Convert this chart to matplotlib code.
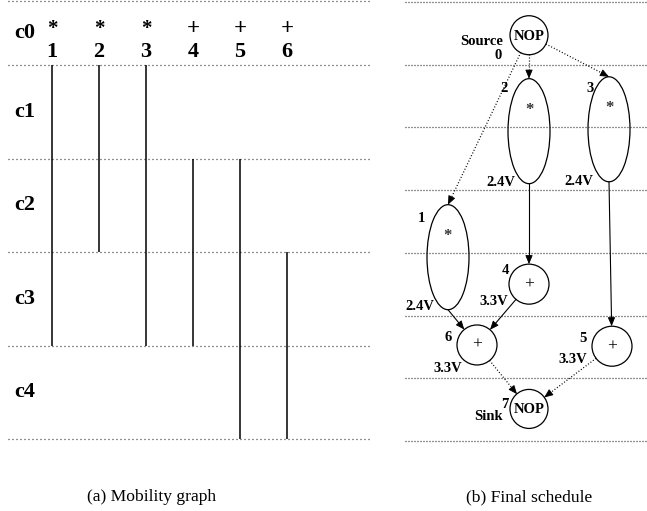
import matplotlib
matplotlib.use('Agg')
import matplotlib.pyplot as plt
from matplotlib.patches import Ellipse
import numpy as np

plt.rcParams['font.family'] = ['Liberation Serif', 'DejaVu Serif']

# ---- (a) mobility graph data ----
ops = [1, 2, 3, 4, 5, 6]
op_symbols = ['*', '*', '*', '+', '+', '+']
asap = [1, 1, 1, 2, 2, 3]          # earliest control step
alap = [3, 2, 3, 3, 4, 4]          # latest control step
steps = ['c0', 'c1', 'c2', 'c3', 'c4']
step_edges = [0.32, 1, 2, 3, 4, 5]

# ---- (b) final schedule data ----
node_ids = ['0', '1', '2', '3', '4', '5', '6', '7']
node_ops = ['NOP', '*', '*', '*', '+', '+', '+', 'NOP']
node_kind = ['nop', 'mul', 'mul', 'mul', 'add', 'add', 'add', 'nop']
node_names = ['Source', '', '', '', '', '', '', 'Sink']
node_volt = ['', '2.4V', '2.4V', '2.4V', '3.3V', '3.3V', '3.3V', '']
node_col = [129, 48, 129, 209, 129, 212, 77, 129]
node_slot = [0.53, 4.07, 2.06, 2.03, 4.5, 5.49, 5.47, 6.49]
edges = [(0, 1, 'dotted'), (0, 2, 'dotted'), (0, 3, 'dotted'),
         (2, 4, 'solid'), (3, 5, 'solid'), (1, 6, 'solid'), (4, 6, 'solid'),
         (6, 7, 'dotted'), (5, 7, 'dotted')]
n_slots = 7

# label placement (pixels relative to node centre)
num_off = [(-31, 20), (-27, -39), (-25, -43), (-19, -41), (-24, -14), (-29, -8), (-29, -7), (-24, -4)]
volt_off = [(0, 0), (-14, 49), (-14, 51), (-16, 52), (-21, 17), (-25, 13), (-15, 24), (0, 0)]
name_off = [(-26, 6), None, None, None, None, None, None, (-26, 8)]
kind_size = {'mul': (42, 105), 'add': (40, 40), 'nop': (38, 39)}

DOT_A = (0, (0.8, 2.4))
DOT_B = (0, (0.8, 1.6))
GRID_C = '#222222'
BOLD = dict(fontweight='bold', color='black')

fig = plt.figure(figsize=(6.47, 5.11), dpi=100)

# ---------------- (a) ----------------
axa = fig.add_axes([0, 0, 380 / 647, 1])
col_px, step_px = 47.0, 93.5
axa.set_xlim(1 - 52 / col_px, 1 + (380 - 52) / col_px)
axa.set_ylim(1 + (511 - 65) / step_px, 1 - 65 / step_px)
axa.axis('off')

x0, x1 = 1 - 44 / col_px, 1 + 320 / col_px
for e in step_edges:
    axa.plot([x0, x1], [e, e], ls=DOT_A, lw=0.9, color=GRID_C)
for i, s in enumerate(steps):
    yc = (step_edges[i] + step_edges[i + 1]) / 2 if i + 1 < len(step_edges) else step_edges[i] + 0.5
    axa.text(1 - 27.5 / col_px, yc, s, fontsize=16, ha='center', va='center', **BOLD)
for op, sym, a, b in zip(ops, op_symbols, asap, alap):
    if sym == '*':
        axa.text(op, 1 - 36 / step_px, sym, fontsize=15, ha='center', va='center', **BOLD)
    else:
        axa.text(op, 1 - 37 / step_px, sym, fontsize=16.5, ha='center', va='center', **BOLD)
    axa.text(op, 1 - 13 / step_px, str(op), fontsize=16, ha='center', va='center', **BOLD)
    axa.plot([op, op], [a, b + 1], color='black', lw=1.1, solid_capstyle='butt')

fig.text(152 / 647, 1 - 497 / 511, '(a) Mobility graph', fontsize=12.6, ha='center', va='center')

# ---------------- (b) ----------------
axb = fig.add_axes([400 / 647, 0, 247 / 647, 1])
slot_px = 62.7
axb.set_xlim(0, 247)
axb.set_ylim((511 - 2) / slot_px, -2 / slot_px)
axb.axis('off')

for k in range(n_slots + 1):
    axb.plot([5, 247], [k, k], ls=DOT_B, lw=0.9, color=GRID_C)

cx = np.array(node_col, dtype=float)
cy = np.array(node_slot) * slot_px   # work in pixels, convert on drawing


def P(x, y):
    return x, y / slot_px


for i in range(len(node_ids)):
    w, h = kind_size[node_kind[i]]
    axb.add_patch(Ellipse(P(cx[i], cy[i]), w, h / slot_px, fill=False, lw=0.9, ec='black'))
    if node_kind[i] == 'nop':
        axb.text(*P(cx[i], cy[i] + 1), node_ops[i], fontsize=10.5, ha='center', va='center', **BOLD)
    elif node_kind[i] == 'mul':
        axb.text(*P(cx[i], cy[i] - 21), node_ops[i], fontsize=12, ha='center', va='center',
                 color='#333333', fontweight='bold')
    else:
        axb.text(*P(cx[i], cy[i]), node_ops[i], fontsize=12.5, ha='center', va='center', color='black')
    dx, dy = num_off[i]
    axb.text(*P(cx[i] + dx, cy[i] + dy), node_ids[i], fontsize=10.5, ha='center', va='center', **BOLD)
    if node_volt[i]:
        dx, dy = volt_off[i]
        axb.text(*P(cx[i] + dx, cy[i] + dy), node_volt[i], fontsize=10.5, ha='right', va='center', **BOLD)
    if node_names[i]:
        dx, dy = name_off[i]
        axb.text(*P(cx[i] + dx, cy[i] + dy), node_names[i], fontsize=10.5, ha='right', va='center', **BOLD)


def unit(v):
    return v / np.hypot(*v)


for s, d, style in edges:
    ws, hs = kind_size[node_kind[s]]
    wd, hd = kind_size[node_kind[d]]
    cs = np.array([cx[s], cy[s]])
    cd = np.array([cx[d], cy[d]])
    ref_s = cs + [0, hs / 2] if node_kind[s] == 'mul' else cs
    ref_d = cd - [0, hd / 2] if node_kind[d] == 'mul' else cd
    u = unit(ref_d - ref_s)
    start = ref_s if node_kind[s] == 'mul' else cs + u * ws / 2
    end = ref_d if node_kind[d] == 'mul' else cd - u * wd / 2
    shaft_end = end - u * 5
    axb.plot(*zip(P(*start), P(*shaft_end)), color='black', lw=0.9 if style == 'dotted' else 0.8,
             ls=DOT_B if style == 'dotted' else '-')
    tail = end - u * 8
    axb.annotate('', xy=P(*end), xytext=P(*tail),
                 arrowprops=dict(arrowstyle='-|>,head_length=0.6,head_width=0.25',
                                 mutation_scale=9, lw=0.6, color='black',
                                 shrinkA=0, shrinkB=0))

fig.text(529 / 647, 1 - 497 / 511, '(b) Final schedule', fontsize=12.6, ha='center', va='center')

fig.savefig('out.png', dpi=100)
